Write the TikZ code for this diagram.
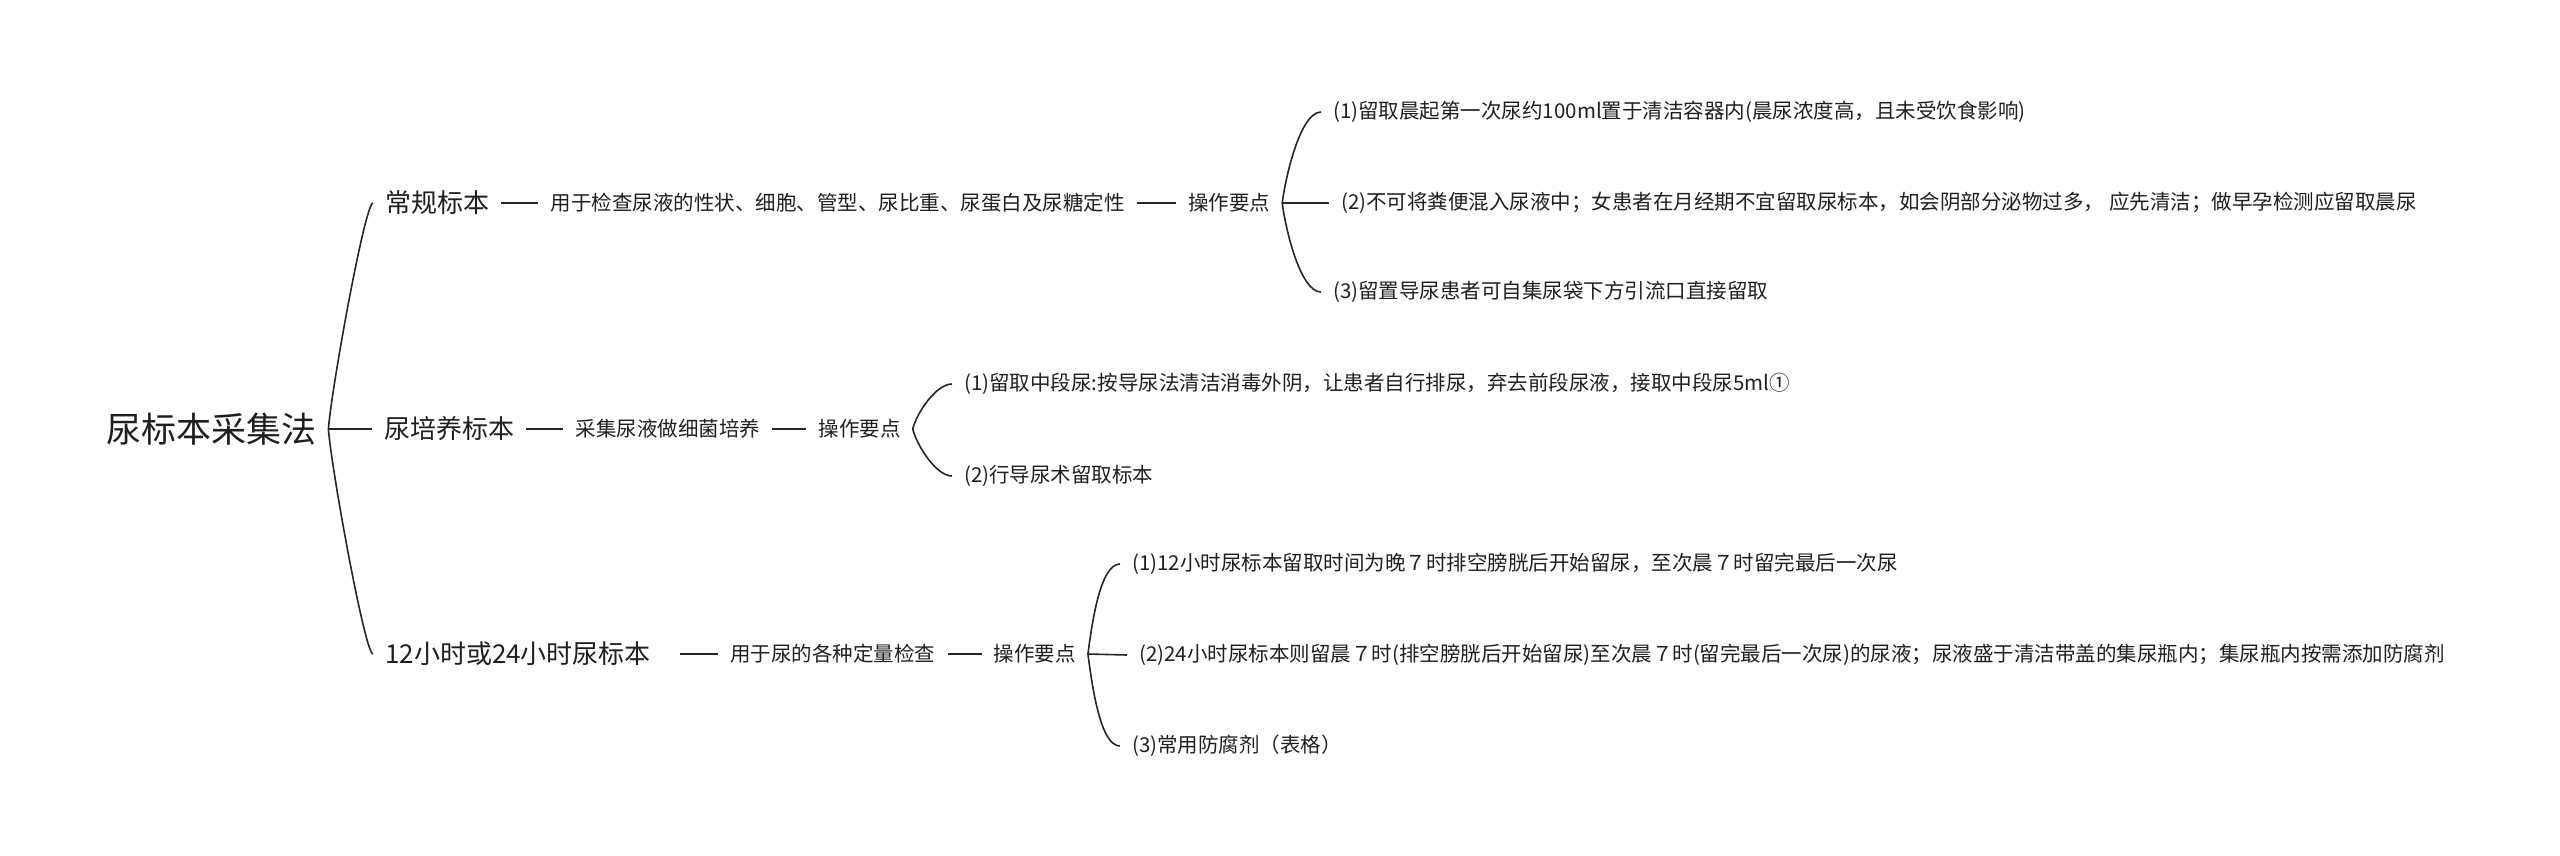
\documentclass[tikz,border=0pt]{standalone}
\usepackage{fontspec}
\setmainfont{Noto Sans CJK SC}
\usetikzlibrary{positioning}
\tikzset{
    topic/.style={
        inner xsep=12pt,
        inner ysep=2pt,
        anchor=west,
        text=black!88
    },
    root/.style={topic, font=\fontsize{35}{40}\selectfont},
    branch/.style={topic, font=\fontsize{26}{30}\selectfont},
    note/.style={topic, font=\fontsize{20.5}{24}\selectfont},
    link/.style={draw=black!85, line width=1.6pt}
}

\begin{document}
\begin{tikzpicture}[x=1pt, y=-1pt, node distance=37pt]
\useasboundingbox (0,0) rectangle (2560,855);

% 1. Root
\node[root] (urine) at (94,429) {尿标本采集法};

% 2. Routine specimen
\node[branch] (routine) at (373,203) {常规标本};
\node[note, right=37pt of routine] (routineUse) {用于检查尿液的性状、细胞、管型、尿比重、尿蛋白及尿糖定性};
\node[note, right=39pt of routineUse] (routineOps) {操作要点};
\node[note] (routineA) at (1321,112) {(1)留取晨起第一次尿约100ml置于清洁容器内(晨尿浓度高，且未受饮食影响)};
\node[note] (routineB) at (1329,203) {(2)不可将粪便混入尿液中；女患者在月经期不宜留取尿标本，如会阴部分泌物过多， 应先清洁；做早孕检测应留取晨尿};
\node[note] (routineC) at (1321,292) {(3)留置导尿患者可自集尿袋下方引流口直接留取};

% 3. Culture specimen
\node[branch] (culture) at (372,429) {尿培养标本};
\node[note, right=37pt of culture] (cultureUse) {采集尿液做细菌培养};
\node[note, right=34pt of cultureUse] (cultureOps) {操作要点};
\node[note] (cultureA) at (952,384) {(1)留取中段尿:按导尿法清洁消毒外阴，让患者自行排尿，弃去前段尿液，接取中段尿5ml①};
\node[note] (cultureB) at (952,476) {(2)行导尿术留取标本};

% 4. 12 h / 24 h specimen
\node[branch] (timed) at (373,654) {12小时或24小时尿标本};
\node[note, right=55pt of timed] (timedUse) {用于尿的各种定量检查};
\node[note, right=34pt of timedUse] (timedOps) {操作要点};
\node[note] (timedA) at (1120,564) {(1)12小时尿标本留取时间为晚７时排空膀胱后开始留尿，至次晨７时留完最后一次尿};
\node[note] (timedB) at (1127,655) {(2)24小时尿标本则留晨７时(排空膀胱后开始留尿)至次晨７时(留完最后一次尿)的尿液；尿液盛于清洁带盖的集尿瓶内；集尿瓶内按需添加防腐剂};
\node[note] (timedC) at (1120,746) {(3)常用防腐剂（表格）};

% 5. Connections
\draw[link] (urine.east) .. controls +(3,-40) and +(-8,0) .. (routine.west);
\draw[link] (urine.east) -- (culture.west);
\draw[link] (urine.east) .. controls +(3,40) and +(-8,0) .. (timed.west);

\draw[link] (routine.east) -- (routineUse.west);
\draw[link] (routineUse.east) -- (routineOps.west);
\draw[link] (routineOps.east) .. controls +(4,-30) and +(-20,0) .. (routineA.west);
\draw[link] (routineOps.east) -- (routineB.west);
\draw[link] (routineOps.east) .. controls +(4,30) and +(-20,0) .. (routineC.west);

\draw[link] (culture.east) -- (cultureUse.west);
\draw[link] (cultureUse.east) -- (cultureOps.west);
\draw[link] (cultureOps.east) .. controls +(4,-16) and +(-16,0) .. (cultureA.west);
\draw[link] (cultureOps.east) .. controls +(4,16) and +(-16,0) .. (cultureB.west);

\draw[link] ([xshift=17pt]timed.east) -- (timedUse.west);
\draw[link] (timedUse.east) -- (timedOps.west);
\draw[link] (timedOps.east) .. controls +(4,-30) and +(-20,0) .. (timedA.west);
\draw[link] (timedOps.east) -- (timedB.west);
\draw[link] (timedOps.east) .. controls +(4,30) and +(-20,0) .. (timedC.west);

\end{tikzpicture}
\end{document}
